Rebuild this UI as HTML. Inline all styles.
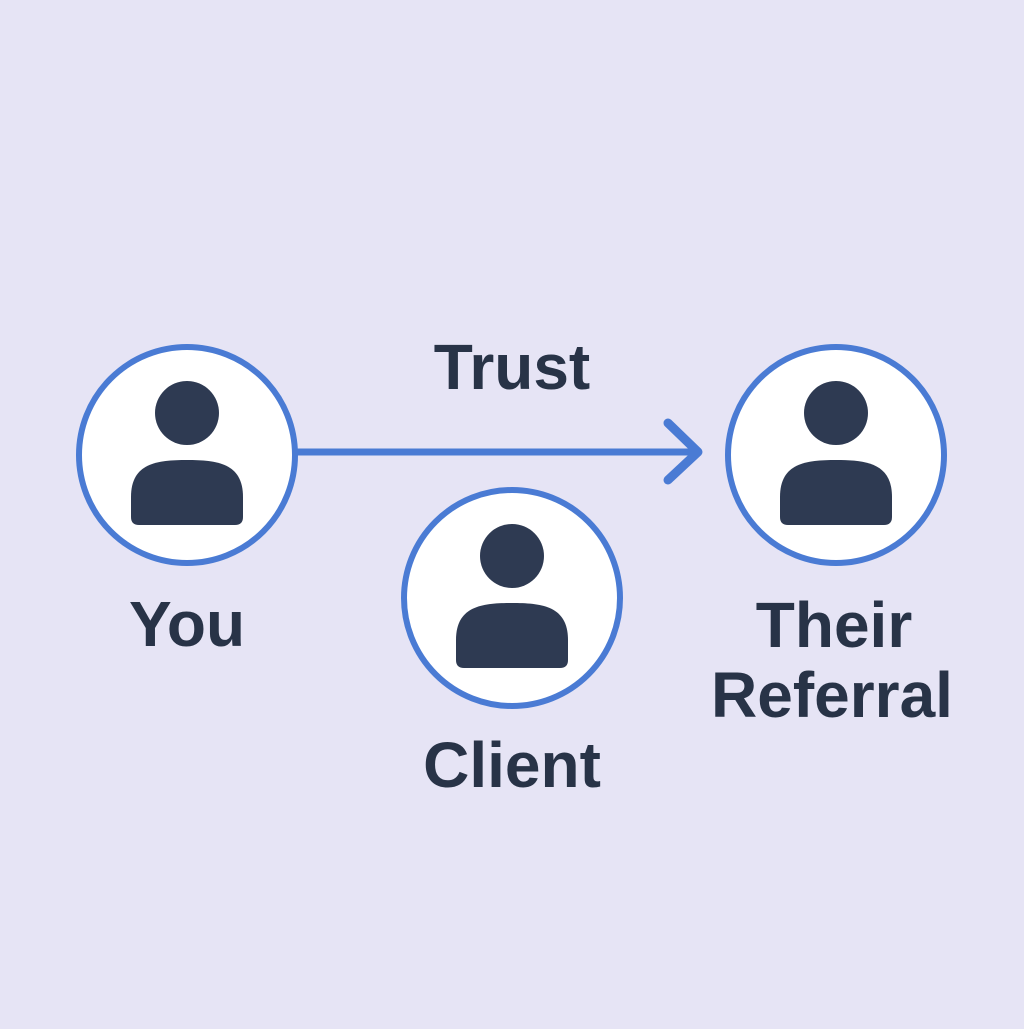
<!DOCTYPE html>
<html><head><meta charset="utf-8"><style>
html,body{margin:0;padding:0;background:#e6e4f5;}
</style></head><body>
<svg width="1024" height="1024" viewBox="0 0 1024 1024" xmlns="http://www.w3.org/2000/svg">
<rect width="1024" height="1024" fill="#e6e4f5"/>
<defs>
<g id="person">
<circle cx="0" cy="-42" r="32" fill="#2e3a52"/>
<path d="M-56,62 L-56,42 C-56,8 -30,5 0,5 C30,5 56,8 56,42 L56,62 Q56,70 48,70 L-48,70 Q-56,70 -56,62 Z" fill="#2e3a52"/>
</g>
</defs>
<line x1="298" y1="452" x2="696" y2="452" stroke="#4a7bd4" stroke-width="7" stroke-linecap="round"/>
<polyline points="668,423 698,452 668,480" fill="none" stroke="#4a7bd4" stroke-width="9" stroke-linecap="round" stroke-linejoin="round"/>
<circle cx="187" cy="455" r="108" fill="#fff" stroke="#4a7bd4" stroke-width="6"/>
<circle cx="512" cy="598" r="108" fill="#fff" stroke="#4a7bd4" stroke-width="6"/>
<circle cx="836" cy="455" r="108" fill="#fff" stroke="#4a7bd4" stroke-width="6"/>
<use href="#person" x="187" y="455"/>
<use href="#person" x="512" y="598"/>
<use href="#person" x="836" y="455"/>
<g font-family="Liberation Sans, sans-serif" font-weight="bold" font-size="64" fill="#283347" text-anchor="middle">
<text x="512" y="389">Trust</text>
<text x="187" y="646">You</text>
<text x="512" y="787">Client</text>
<text x="834" y="647">Their</text>
<text x="832" y="717">Referral</text>
</g>
</svg>
</body></html>
